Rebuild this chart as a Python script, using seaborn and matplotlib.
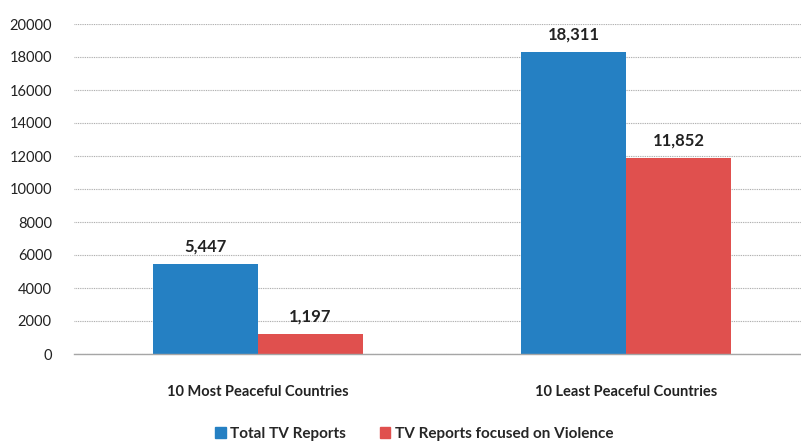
import matplotlib
matplotlib.use("Agg")
import matplotlib.pyplot as plt
import seaborn as sns
import pandas as pd
from matplotlib.patches import Patch

categories = ["10 Most Peaceful Countries", "10 Least Peaceful Countries"]
series_names = ["Total TV Reports", "TV Reports focused on Violence"]
total_reports = [5447, 18311]
violence_reports = [1197, 11852]
colors = ["#2580C3", "#E0504E"]

rows = []
for c, t, v in zip(categories, total_reports, violence_reports):
    rows.append({"cat": c, "series": series_names[0], "val": t})
    rows.append({"cat": c, "series": series_names[1], "val": v})
df = pd.DataFrame(rows)

sns.set_style("white")
plt.rcParams["font.family"] = ["Lato", "DejaVu Sans"]

fig = plt.figure(figsize=(8.01, 4.43), dpi=100)
ax = fig.add_axes([74/801, 1-354/443, 736/801, 330/443])

sns.barplot(data=df, x="cat", y="val", hue="series", order=categories,
            hue_order=series_names, palette=colors, width=0.571, gap=0,
            saturation=1, ax=ax, legend=False, errorbar=None, linewidth=0)

ax.set_xlim(-0.5, 1.5)
ax.set_ylim(0, 20000)
ax.set_yticks(range(0, 20001, 2000))
ax.yaxis.grid(True, linestyle=(0, (0.8, 0.8)), color="#A6A6A6", linewidth=0.8)
ax.set_axisbelow(True)
for s in ["top", "right", "left"]:
    ax.spines[s].set_visible(False)
ax.spines["bottom"].set_color("#A6A6A6")
ax.spines["bottom"].set_linewidth(1.0)
ax.tick_params(axis="y", length=0, labelsize=10.5, labelcolor="#222222", pad=16)
ax.tick_params(axis="x", which="major", length=0, pad=22)
ax.set_xticks(range(len(categories)))
ax.set_xticklabels(categories, fontsize=10.5, fontweight="bold", color="#222222")
ax.set_xticks([-0.5, 0.5, 1.5], minor=True)
ax.tick_params(axis="x", which="minor", length=4, color="#A6A6A6", width=1)
ax.set_xlabel("")
ax.set_ylabel("")

for cont in ax.containers:
    ax.bar_label(cont, labels=[f"{int(b.get_height()):,}" for b in cont],
                 padding=7, fontsize=12, fontweight="bold", color="#222222")

handles = [Patch(color=c, label=n) for c, n in zip(colors, series_names)]
fig.legend(handles=handles, loc="center", bbox_to_anchor=(0.517, 1-434/443),
           ncol=2, frameon=False, handlelength=0.7, handleheight=0.7,
           handletextpad=0.3, columnspacing=2.2,
           prop={"weight": "bold", "size": 11})

fig.savefig("out.png", dpi=100)
